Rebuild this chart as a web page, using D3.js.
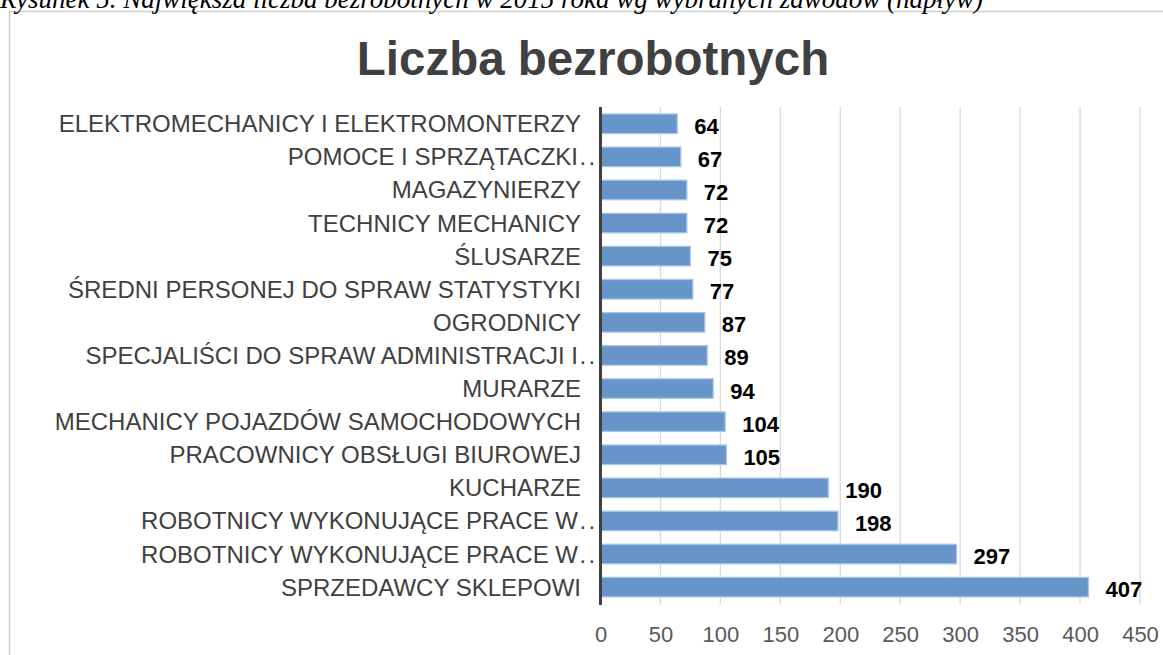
<!DOCTYPE html>
<html>
<head>
<meta charset="utf-8">
<script src="https://cdn.jsdelivr.net/npm/d3@7"></script>
<style>
  html, body { margin: 0; padding: 0; background: #fff; }
  svg { display: block; }
</style>
</head>
<body>
<svg id="chart" width="1163" height="655"></svg>
<script>
const captionText = "Rysunek 5. Największa liczba  bezrobotnych w 2015 roka wg wybranych zawodów (napływ)";
const titleText = "Liczba bezrobotnych";
const categories = [
  "ELEKTROMECHANICY I ELEKTROMONTERZY",
  "POMOCE I SPRZĄTACZKI…",
  "MAGAZYNIERZY",
  "TECHNICY MECHANICY",
  "ŚLUSARZE",
  "ŚREDNI PERSONEJ DO SPRAW STATYSTYKI",
  "OGRODNICY",
  "SPECJALIŚCI DO SPRAW ADMINISTRACJI I…",
  "MURARZE",
  "MECHANICY POJAZDÓW SAMOCHODOWYCH",
  "PRACOWNICY OBSŁUGI BIUROWEJ",
  "KUCHARZE",
  "ROBOTNICY WYKONUJĄCE PRACE W…",
  "ROBOTNICY WYKONUJĄCE PRACE W… ",
  "SPRZEDAWCY SKLEPOWI"
];
const values = [64, 67, 72, 72, 75, 77, 87, 89, 94, 104, 105, 190, 198, 297, 407];
const xTicks = [0, 50, 100, 150, 200, 250, 300, 350, 400, 450];

const svg = d3.select("#chart");
const font = "'Liberation Sans', Arial, sans-serif";

// outer frame
svg.append("rect")
  .attr("x", 9.5).attr("y", 11.5)
  .attr("width", 1200).attr("height", 700)
  .attr("fill", "none").attr("stroke", "#cfcfcf").attr("stroke-width", 1.5);

// caption (cropped at top, as in the reference)
svg.append("text")
  .attr("x", 0).attr("y", 8)
  .attr("font-family", "'Liberation Serif', 'Times New Roman', serif")
  .attr("font-style", "italic")
  .attr("font-size", 27)
  .attr("fill", "#000")
  .text(captionText);

// title
svg.append("text")
  .attr("x", 593).attr("y", 75)
  .attr("text-anchor", "middle")
  .attr("font-family", font)
  .attr("font-weight", "bold")
  .attr("font-size", 47.5)
  .attr("fill", "#404040")
  .text(titleText);

const x = d3.scaleLinear().domain([0, 450]).range([600.5, 1140]);
const y = d3.scaleBand().domain(categories).range([107.2, 603.7]).paddingInner(0.41).paddingOuter(0.205);

// gridlines
svg.append("g").selectAll("line").data(xTicks.slice(1)).join("line")
  .attr("x1", d => x(d)).attr("x2", d => x(d))
  .attr("y1", 107).attr("y2", 604)
  .attr("stroke", "#d9d9d9").attr("stroke-width", 1.3);

// x tick labels
const xAxis = d3.axisBottom(x).tickValues(xTicks).tickSize(0).tickPadding(0);
const gx = svg.append("g").attr("transform", "translate(0,642)").call(xAxis);
gx.select(".domain").remove();
gx.selectAll("text")
  .attr("y", 0).attr("dy", 0)
  .attr("font-family", font)
  .attr("font-size", 22)
  .attr("fill", "#595959");

// category labels
const labels = svg.append("g").selectAll("text").data(categories).join("text")
  .attr("x", 581)
  .attr("y", d => y(d) + y.bandwidth() / 2 + 8.5)
  .attr("text-anchor", "end")
  .attr("font-family", font)
  .attr("font-size", 24)
  .attr("fill", "#404040");
labels.each(function(d) {
  const t = d3.select(this);
  const trunc = d.trim().endsWith("…");
  if (trunc) {
    t.attr("text-anchor", "start");
    const base = d.trim().replace("…", "");
    t.text(base);
    const w = this.getComputedTextLength();
    t.attr("x", 578 - w);
    t.append("tspan").attr("dx", 1.5).attr("letter-spacing", 2.3).text("...");
  } else {
    t.text(d);
  }
});

// bars
svg.append("g").selectAll("rect").data(values).join("rect")
  .attr("x", x(0))
  .attr("y", (d, i) => y(categories[i]))
  .attr("width", d => x(d) - x(0))
  .attr("height", y.bandwidth())
  .attr("fill", "#6795c9")
  .attr("stroke", "#a9c5e5")
  .attr("stroke-width", 1.3);

// value labels
svg.append("g").selectAll("text").data(values).join("text")
  .attr("x", d => x(d) + 17)
  .attr("y", (d, i) => y(categories[i]) + y.bandwidth() / 2 + 10)
  .attr("font-family", font)
  .attr("font-weight", "bold")
  .attr("font-size", 22)
  .attr("fill", "#000")
  .text(d => d);

// vertical axis line
svg.append("line")
  .attr("x1", x(0)).attr("x2", x(0))
  .attr("y1", 107).attr("y2", 605)
  .attr("stroke", "#404040").attr("stroke-width", 3);
</script>
</body>
</html>
